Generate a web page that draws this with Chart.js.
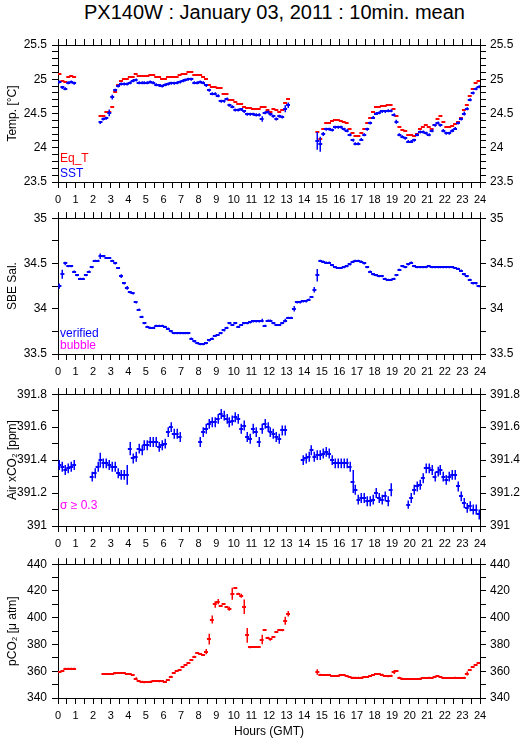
<!DOCTYPE html>
<html>
<head>
<meta charset="utf-8">
<title>PX140W : January 03, 2011 : 10min. mean</title>
<script src="https://cdn.jsdelivr.net/npm/chart.js@4/dist/chart.umd.min.js"></script>
<style>
	body { margin: 0; background: #fff; }
	#page { position: relative; width: 529px; height: 739px; overflow: hidden; font-family: 'Liberation Sans', Arial, sans-serif; }
	#title { position: absolute; left: 10px; top: 0; width: 529px; text-align: center; font-size: 20px; line-height: 24px; color: #000; }
	.panel { position: absolute; left: 0; }
	canvas { display: block; }
</style>
</head>
<body>
<div id="page">
	<div id="title">PX140W : January 03, 2011 : 10min. mean</div>
	<div class="panel" style="top:30px"><canvas id="tempChart" width="529" height="176"></canvas></div>
	<div class="panel" style="top:206px"><canvas id="salChart" width="529" height="176"></canvas></div>
	<div class="panel" style="top:382px"><canvas id="xco2Chart" width="529" height="170"></canvas></div>
	<div class="panel" style="top:552px"><canvas id="pco2Chart" width="529" height="187"></canvas></div>
</div>
<script>
// 10 minute means, 6 bins per hour, one row per hour (0..23 GMT)
const binsPerHour = 6

const eqT = [
	25.07, 24.98, 24.96, 25.03, 25.05, 25.04,
	null, null, null, null, null, null,
	null, null, 24.46, 24.46, 24.52, 24.52,
	24.60, 24.81, 24.92, 24.98, 25.01, 25.01,
	25.04, 25.04, 25.07, 25.05, 25.05, 25.05,
	25.05, 25.06, 25.06, 25.03, 25.03, 25.00,
	25.00, 25.03, 25.04, 25.04, 25.04, 25.06,
	25.07, 25.08, 25.10, 25.10, 25.06, 25.06,
	25.06, 25.04, 25.00, 24.92, 24.88, 24.88,
	24.87, 24.87, 24.79, 24.78, 24.70, 24.70,
	24.67, 24.64, 24.64, 24.59, 24.58, 24.58,
	24.57, 24.57, 24.57, 24.60, 24.60, 24.55,
	24.52, 24.57, 24.55, 24.52, 24.55, 24.65,
	24.71, null, null, null, null, null,
	null, null, null, null, 24.23, 24.13,
	24.28, 24.36, 24.36, 24.39, 24.40, 24.40,
	24.39, 24.38, 24.36, 24.28, 24.22, 24.17,
	24.17, 24.22, 24.28, 24.36, 24.44, 24.52,
	24.59, 24.60, 24.61, 24.61, 24.62, 24.63,
	24.57, 24.47, 24.30, 24.26, 24.24, 24.19,
	24.19, 24.17, 24.20, 24.27, 24.31, 24.33,
	24.30, 24.27, 24.33, 24.42, 24.46, 24.38,
	24.31, 24.30, 24.32, 24.34, 24.37, 24.44,
	24.55, 24.62, 24.75, 24.86, 24.94, 24.98
]

const sst = [
	24.96, 24.88, 24.86, 24.95, 24.96, 24.94,
	null, null, null, null, null, null,
	null, null, 24.37, 24.42, 24.43, 24.51,
	24.74, 24.84, 24.90, 24.93, 24.93, 24.93,
	24.95, 24.98, 24.99, 24.95, 24.95, 24.95,
	24.95, 24.96, 24.95, 24.92, 24.91, 24.90,
	24.92, 24.93, 24.94, 24.94, 24.95, 24.96,
	24.98, 24.99, 25.00, 25.00, 24.95, 24.95,
	24.96, 24.95, 24.91, 24.84, 24.79, 24.79,
	24.76, 24.68, 24.68, 24.71, 24.62, 24.60,
	24.55, 24.55, 24.56, 24.53, 24.49, 24.49,
	24.49, 24.48, 24.48, 24.42, 24.51, 24.52,
	24.49, 24.46, 24.42, 24.46, 24.45, 24.57,
	24.62, null, null, null, null, null,
	null, null, null, null, 24.10, 24.05,
	24.20, 24.27, 24.27, 24.26, 24.30, 24.30,
	24.30, 24.27, 24.25, 24.19, 24.11, 24.06,
	24.06, 24.12, 24.19, 24.27, 24.36, 24.44,
	24.50, 24.51, 24.53, 24.53, 24.54, 24.54,
	24.48, 24.38, 24.19, 24.16, 24.14, 24.09,
	24.09, 24.11, 24.19, 24.23, 24.23, 24.21,
	24.19, 24.25, 24.33, 24.36, 24.33, 24.25,
	24.21, 24.21, 24.25, 24.28, 24.36, 24.42,
	24.50, 24.57, 24.70, 24.80, 24.86, 24.89
]
const sstErr = { 17: 0.05, 18: 0.035, 69: 0.04, 77: 0.05, 78: 0.04, 88: 0.13, 89: 0.11, 90: 0.03, 115: 0.03, 138: 0.03 }

const salinity = [
	34.25, 34.38, 34.50, 34.47, 34.47, 34.41,
	34.37, 34.33, 34.33, 34.37, 34.41, 34.46,
	34.53, 34.53, 34.58, 34.58, 34.56, 34.56,
	34.53, 34.50, 34.45, 34.36, 34.28, 34.23,
	34.18, 34.17, 34.07, 33.99, 33.91, 33.84,
	33.80, 33.79, 33.79, 33.81, 33.81, 33.81,
	33.80, 33.78, 33.75, 33.73, 33.73, 33.73,
	33.73, 33.73, 33.73, 33.67, 33.64, 33.62,
	33.61, 33.61, 33.62, 33.65, 33.67, 33.70,
	33.71, 33.73, 33.76, 33.79, 33.84, 33.82,
	33.84, 33.80, 33.82, 33.84, 33.84, 33.85,
	33.86, 33.86, 33.86, 33.87, 33.81, 33.87,
	33.87, 33.84, 33.82, 33.82, 33.84, 33.87,
	33.90, 33.90, 34.00, 34.07, 34.07, 34.08,
	34.08, 34.10, 34.13, 34.21, 34.37, 34.53,
	34.52, 34.51, 34.51, 34.48, 34.46, 34.45,
	34.45, 34.46, 34.47, 34.49, 34.52, 34.53,
	34.53, 34.52, 34.50, 34.46, 34.41, 34.38,
	34.37, 34.36, 34.36, 34.33, 34.32, 34.32,
	34.33, 34.37, 34.43, 34.47, 34.46, 34.49,
	34.51, 34.47, 34.46, 34.46, 34.46, 34.46,
	34.47, 34.46, 34.46, 34.46, 34.46, 34.46,
	34.46, 34.46, 34.46, 34.45, 34.44, 34.42,
	34.38, 34.36, 34.32, 34.28, 34.28, 34.25
]
const salErr = { 0: 0.03, 1: 0.05, 2: 0.02, 14: 0.03, 21: 0.02, 23: 0.02, 69: 0.02, 77: 0.02, 80: 0.03, 87: 0.03, 88: 0.07 }

const airXco2 = [
	391.37, 391.36, 391.34, 391.35, 391.36, 391.37,
	null, null, null, null, null, 391.30,
	391.32, 391.36, 391.40, 391.38, 391.38, 391.37,
	391.36, 391.36, 391.32, 391.31, 391.31, 391.31,
	391.47, 391.41, 391.42, 391.47, 391.46, 391.49,
	391.49, 391.51, 391.51, 391.51, 391.48, 391.49,
	391.50, 391.57, 391.60, 391.56, 391.56, 391.54,
	null, null, null, null, null, null,
	391.51, 391.57, 391.59, 391.62, 391.63, 391.63,
	391.65, 391.68, 391.67, 391.65, 391.63, 391.64,
	391.66, 391.65, 391.59, 391.61, 391.54, 391.53,
	391.59, 391.57, 391.51, 391.59, 391.62, 391.60,
	391.57, 391.56, 391.54, 391.53, 391.58, 391.58,
	null, null, null, null, null, 391.40,
	391.41, 391.42, 391.46, 391.42, 391.43, 391.43,
	391.44, 391.45, 391.44, 391.40, 391.38, 391.38,
	391.38, 391.38, 391.38, 391.36, 391.27, 391.22,
	391.16, 391.17, 391.17, 391.15, 391.15, 391.16,
	391.20, 391.17, 391.16, 391.18, 391.15, 391.22,
	null, null, null, null, null, 391.13,
	391.17, 391.22, 391.24, 391.25, 391.29, 391.35,
	391.35, 391.34, 391.30, 391.33, 391.34, 391.30,
	391.28, 391.30, 391.31, 391.31, 391.24, 391.18,
	391.14, 391.11, 391.12, 391.10, 391.10, 391.07
]
const xco2Err = { 14: 0.045, 23: 0.06, 24: 0.04, 100: 0.07, 113: 0.04, 119: 0.025 }

const pco2 = [
	359.5, 360.0, 362.0, 362.0, 362.0, 362.0,
	null, null, null, null, null, null,
	null, null, null, 357.8, 357.8, 357.8,
	357.8, 358.4, 358.7, 358.7, 358.5, 357.9,
	357.7, 357.0, 354.5, 352.8, 352.2, 351.6,
	351.8, 352.2, 352.9, 352.5, 352.4, 352.4,
	352.2, 353.6, 356.0, 358.9, 360.2, 361.0,
	363.3, 364.7, 366.0, 368.3, 371.0, 373.7,
	372.8, 372.3, 374.7, 384.0, 398.6, 409.9,
	412.0, 408.7, 410.4, 408.2, 406.7, 417.9,
	422.0, 418.0, 416.4, 408.2, 386.8, 377.8,
	378.0, 378.0, 378.2, 383.7, 391.0, 385.2,
	383.8, 385.5, 389.3, 391.0, 390.5, 397.7,
	403.0, null, null, null, null, null,
	null, null, null, null, 359.4, 357.5,
	357.3, 357.3, 357.3, 356.3, 356.5, 356.8,
	357.0, 357.0, 356.5, 355.8, 355.3, 355.3,
	355.2, 355.3, 355.5, 355.8, 356.5, 357.0,
	357.8, 357.7, 357.5, 356.3, 356.2, 356.8,
	359.4, 360.0, 355.2, 354.5, 354.3, 354.3,
	354.3, 354.3, 354.3, 354.5, 354.8, 355.0,
	355.2, 355.0, 356.0, 356.3, 355.5, 355.0,
	355.0, 355.0, 355.0, 355.2, 355.0, 355.0,
	355.3, 358.3, 360.7, 363.3, 364.5, 366.0
]
const pco2Err = { 26: 1, 50: 2, 51: 4, 52: 3, 53: 2.5, 54: 2, 58: 1.5, 59: 4.5, 62: 1.5, 63: 5.5, 64: 5.5, 69: 3.5, 72: 1, 77: 3, 78: 2, 88: 2, 114: 1.5, 139: 1.5 }

const RED = '#ff0000'
const BLUE = '#0000ff'
const MAGENTA = '#ff00ff'
const FONT = "'Liberation Sans', Arial, sans-serif"

function toPoints(values, errs, defaultErr) {
	return values
		.map((v, i) => v === null ? null : { x: (i + 0.5) / binsPerHour, y: v, e: errs[i] ?? defaultErr })
		.filter(p => p !== null)
}

// each 10 min mean is drawn as a short bar over its bin plus a thin +/- sigma stroke
const crossPlugin = {
	id: 'crosses',
	afterDatasetsDraw(chart, args, opts) {
		const { ctx, chartArea: area } = chart
		const xs = chart.scales.x
		const ys = chart.scales.y
		const half = 0.5 / binsPerHour
		ctx.save()
		ctx.beginPath()
		ctx.rect(area.left, area.top, area.width, area.height)
		ctx.clip()
		chart.data.datasets.forEach(ds => {
			ctx.strokeStyle = ds.borderColor
			// bars
			ctx.lineWidth = 2
			ctx.beginPath()
			ds.data.forEach(p => {
				const yc = Math.round(ys.getPixelForValue(p.y))
				ctx.moveTo(xs.getPixelForValue(p.x - half) - 0.5, yc)
				ctx.lineTo(xs.getPixelForValue(p.x + half) + 0.5, yc)
			})
			ctx.stroke()
			// sigma
			ctx.lineWidth = 1.5
			ctx.beginPath()
			ds.data.forEach(p => {
				if (!p.e) return
				const xc = Math.round(xs.getPixelForValue(p.x)) + 0.25
				ctx.moveTo(xc, ys.getPixelForValue(p.y + p.e))
				ctx.lineTo(xc, ys.getPixelForValue(p.y - p.e))
			})
			ctx.stroke()
		})
		ctx.restore()

		ctx.save()
		ctx.font = '12px ' + FONT
		ctx.textBaseline = 'alphabetic'
		;(opts.notes || []).forEach(n => {
			ctx.fillStyle = n.color
			ctx.fillText(n.text, area.left + 2, area.bottom - n.dy)
		})
		ctx.restore()
	}
}

const hourLabel = v => Math.abs(v - Math.round(v)) < 1e-6 ? String(Math.round(v)) : ''
const valueLabel = major => v => Math.abs(v / major - Math.round(v / major)) < 1e-6 ? String(Math.round(v * 100) / 100) : ''

const gridOpts = { drawOnChartArea: false, drawTicks: true, tickLength: 6, tickColor: '#000', tickWidth: 1 }
const borderOpts = { color: '#000', width: 1 }

function xAxis(side, height, title) {
	return {
		type: 'linear',
		position: side,
		min: 0,
		max: 24,
		afterFit: s => { s.height = height },
		ticks: {
			display: side === 'bottom',
			stepSize: 0.5,
			autoSkip: false,
			maxTicksLimit: 100,
			maxRotation: 0,
			color: '#000',
			font: { family: FONT, size: 11 },
			padding: 5,
			callback: hourLabel,
		},
		grid: gridOpts,
		border: borderOpts,
		title: title
			? { display: true, text: title, color: '#000', font: { family: FONT, size: 12 }, padding: { top: 0, bottom: 0 } }
			: { display: false },
	}
}

function yAxis(side, min, max, step, major, title) {
	return {
		type: 'linear',
		position: side,
		min,
		max,
		afterFit: s => { s.width = side === 'left' ? 58 : 49 },
		ticks: {
			stepSize: step,
			autoSkip: false,
			maxTicksLimit: 100,
			color: '#000',
			font: { family: FONT, size: 12 },
			padding: side === 'left' ? 5 : 4,
			callback: valueLabel(major),
		},
		grid: gridOpts,
		border: borderOpts,
		title: title
			? { display: true, text: title, color: '#000', font: { family: FONT, size: 12 }, padding: { top: 5, bottom: 0 } }
			: { display: false },
	}
}

function panel(canvasId, datasets, y, notes, topH, bottomH, xTitle) {
	return new Chart(document.getElementById(canvasId), {
		type: 'scatter',
		data: { datasets },
		options: {
			responsive: false,
			animation: false,
			events: [],
			layout: { padding: 0 },
			elements: { point: { radius: 0, hoverRadius: 0 } },
			plugins: {
				legend: { display: false },
				tooltip: { enabled: false },
				crosses: { notes },
			},
			scales: {
				x: xAxis('bottom', bottomH, xTitle),
				xTop: xAxis('top', topH),
				y: yAxis('left', y.min, y.max, y.step, y.major, y.title),
				yRight: yAxis('right', y.min, y.max, y.step, y.major),
			},
		},
		plugins: [crossPlugin],
	})
}

panel('tempChart', [
	{ label: 'Eq_T', data: toPoints(eqT, {}, 0), borderColor: RED },
	{ label: 'SST', data: toPoints(sst, sstErr, 0.022), borderColor: BLUE },
], { min: 23.5, max: 25.5, step: 0.1, major: 0.5, title: 'Temp. [°C]' },
[{ text: 'Eq_T', color: RED, dy: 20 }, { text: 'SST', color: BLUE, dy: 5 }], 15, 24)

panel('salChart', [
	{ label: 'verified', data: toPoints(salinity, salErr, 0.012), borderColor: BLUE },
], { min: 33.5, max: 35, step: 0.25, major: 0.5, title: 'SBE Sal.' },
[{ text: 'verified', color: BLUE, dy: 17 }, { text: 'bubble', color: MAGENTA, dy: 5 }], 10, 28)

panel('xco2Chart', [
	{ label: 'Air xCO2', data: toPoints(airXco2, xco2Err, 0.03), borderColor: BLUE },
], { min: 391, max: 391.8, step: 0.1, major: 0.2, title: 'Air xCO₂ [ppm]' },
[{ text: 'σ ≥ 0.3', color: MAGENTA, dy: 17 }], 7, 26)

panel('pco2Chart', [
	{ label: 'pCO2', data: toPoints(pco2, pco2Err, 0.6), borderColor: RED },
], { min: 340, max: 440, step: 10, major: 20, title: 'pCO₂ [μ atm]' },
[], 9, 41, 'Hours (GMT)')
</script>
</body>
</html>
